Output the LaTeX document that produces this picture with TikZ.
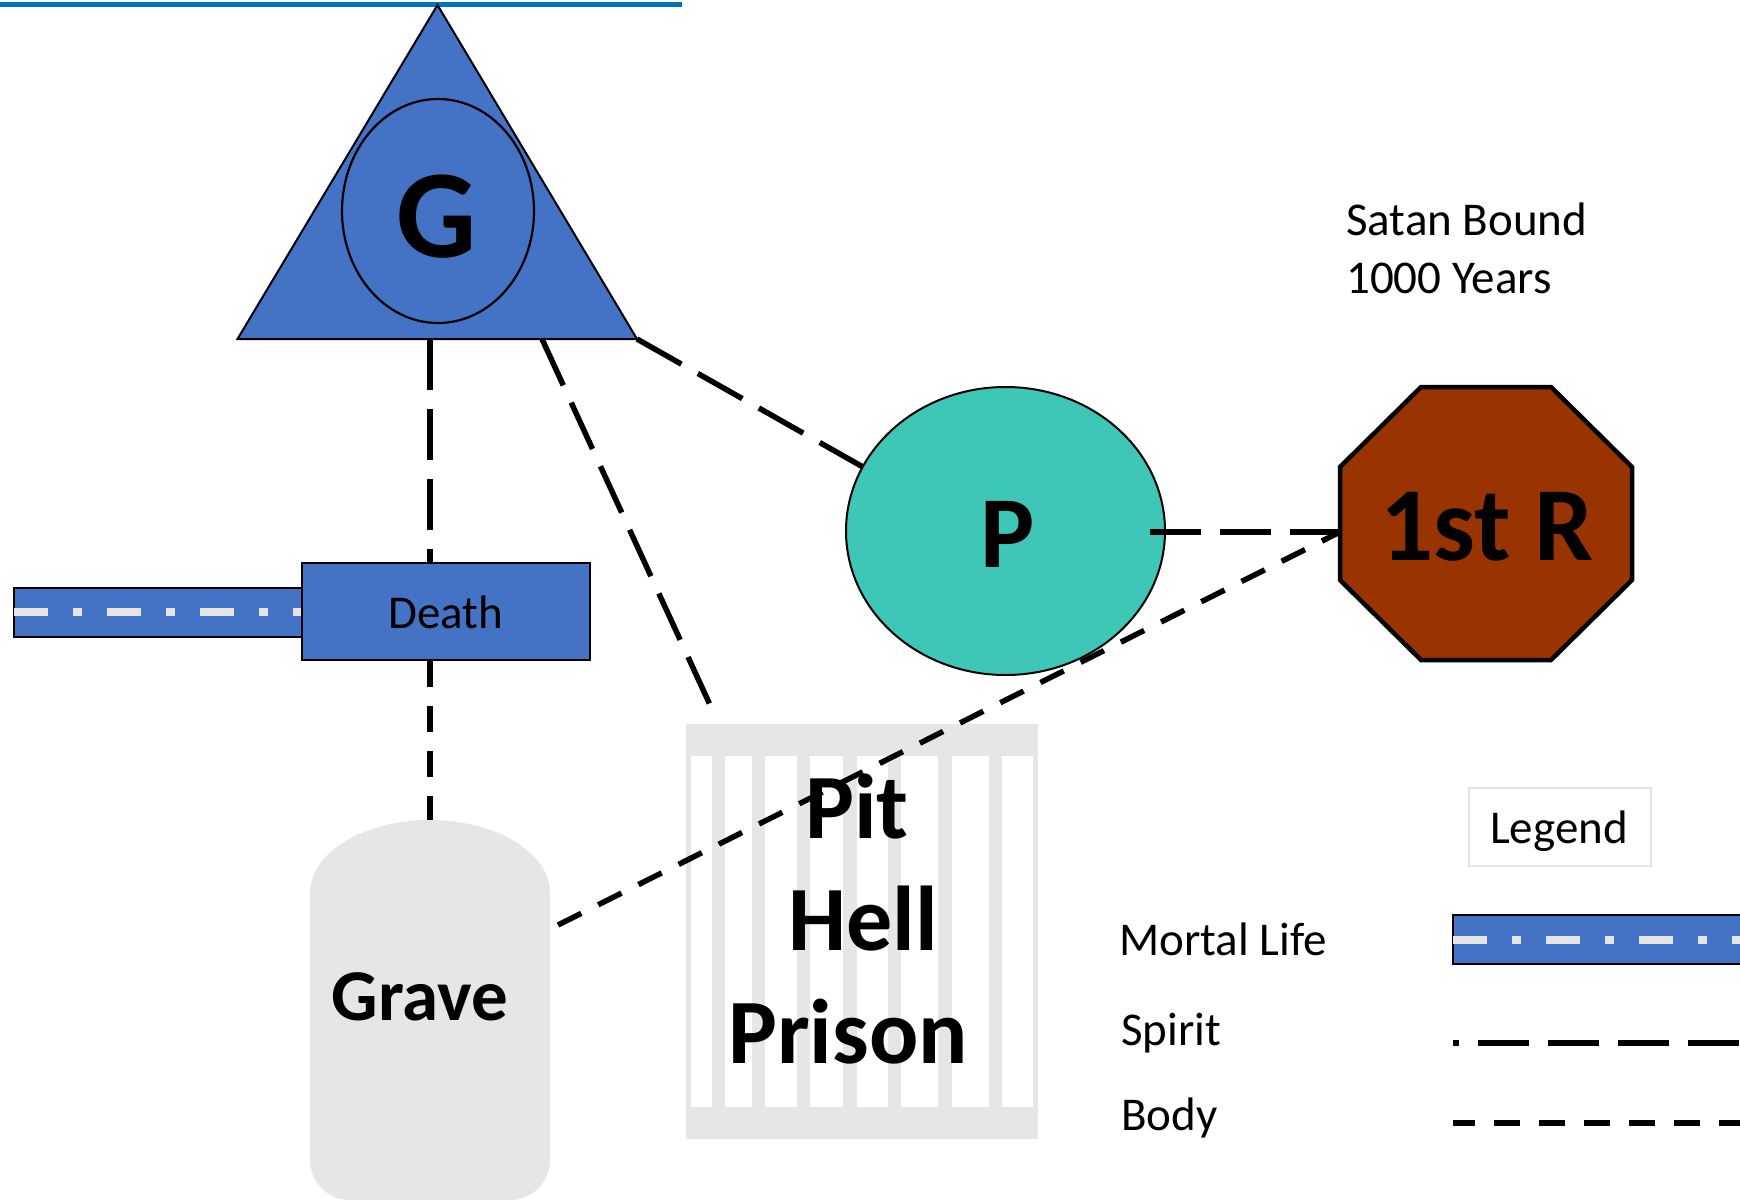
\documentclass[tikz,border=0pt]{standalone}
\usepackage{fontspec}
\setmainfont{Carlito}
\usetikzlibrary{shapes.geometric,calc}
\definecolor{gblue}{HTML}{4472C4}
\definecolor{topblue}{HTML}{0070C0}
\definecolor{teal2}{HTML}{3EC6B6}
\definecolor{brn}{HTML}{993300}
\definecolor{lgray}{HTML}{E6E6E6}
\definecolor{lborder}{HTML}{E2E2E2}
\begin{document}
\begin{tikzpicture}[x=1pt,y=-1pt,
  spirit/.style={line width=5.5pt, dash pattern=on 51pt off 19pt},
  body/.style={line width=5.5pt, dash pattern=on 26pt off 19pt},
  lifeline/.style={draw=lgray, line width=8pt, dash pattern=on 34pt off 25pt on 9pt off 25pt},
  txt/.style={inner sep=0pt, font=\fontsize{47}{56}\selectfont},
  bigtxt/.style={inner sep=0pt, font=\fontsize{#1}{#1}\selectfont\bfseries}]
\useasboundingbox (0,0) rectangle (1740,1202);

% top line
\coordinate (topL) at (0,4);
\coordinate (topR) at (682,4);
\draw[topblue, line width=5pt] (topL) -- (topR);

% triangle with G
\coordinate (triA) at (437.5,5);
\coordinate (triL) at (237.5,339);
\coordinate (triR) at (637,339);
\draw[fill=gblue, line width=2pt, line join=miter] (triA) -- (triR) -- (triL) -- cycle;
\node[ellipse, draw, line width=2.2pt, fill=gblue, minimum width=192pt, minimum height=224pt, inner sep=0pt] (Gell) at (438,211) {};
\node[bigtxt=126, anchor=base] (Gtxt) at (437,257) {G};

% mortal life bar and death box
\node[draw, line width=2.5pt, fill=gblue, minimum width=288pt, minimum height=49pt, inner sep=0pt] (life) at (158,612.5) {};
\coordinate (lifeA) at (14,612);
\coordinate (lifeB) at (302,612);
\draw[lifeline] (lifeA) -- (lifeB);
\node[draw, line width=2.5pt, fill=gblue, minimum width=288pt, minimum height=97pt, inner sep=0pt] (death) at (446,611.5) {};
\node[txt, anchor=base] (deathtxt) at (446,628) {Death};

% grave
\fill[lgray] (310,893) arc[start angle=180,end angle=360,x radius=120,y radius=73] -- (550,1160) arc[start angle=0,end angle=90,radius=40] -- (350,1200) arc[start angle=90,end angle=180,radius=40] -- cycle;
\coordinate (graveTop) at (430,820);
\coordinate (graveR) at (558,925);
\node[bigtxt=73, anchor=base] (gravetxt) at (420,1020) {Grave};

% pit / prison
\fill[lgray] (686,724) rectangle (1038,1139);
\fill[white] (691,756) rectangle (1033,1107);
\foreach \a/\b in {712/725, 752/765, 797/810, 843/857, 888/901, 938/952, 989/1002}
  \fill[lgray] (\a,756) rectangle (\b,1107);
\coordinate (pitTop) at (711,707);

% P ellipse
\node[ellipse, draw, line width=2pt, fill=teal2, minimum width=319pt, minimum height=288pt, inner sep=0pt] (P) at (1005.5,531) {};
\node[bigtxt=102, anchor=base] (Ptxt) at (1008,567) {P};
\coordinate (Pin) at (863,467);
\coordinate (Pout) at (1150,532);

% octagon 1st R
\draw[fill=brn, line width=4.5pt, line join=miter] (1421,387) -- (1551,387) -- (1632,467) -- (1632,580) -- (1551,660) -- (1421,660) -- (1340,580) -- (1340,467) -- cycle;
\coordinate (Rw) at (1340,532);
\node[bigtxt=105, anchor=base] (Rtxt) at (1487,560) {1st R};

% satan bound
\node[txt, anchor=base west] (sat1) at (1346,235) {Satan Bound};
\node[txt, anchor=base west] (sat2) at (1346,293) {1000 Years};

% connectors
\coordinate (tb1) at (430,339);
\coordinate (tb2) at (542,339);
\draw[spirit] (tb1) -- (tb1 |- death.north);
\draw[body] (tb1 |- death.south) -- (graveTop);
\draw[spirit] (tb2) -- (pitTop);
\draw[spirit] (triR) -- (Pin);
\draw[spirit] (Pout) -- (Rw);
\draw[body] (graveR) -- (Rw);

% pit text
\node[bigtxt=92, anchor=base] (pit) at (857,838) {Pit};
\node[bigtxt=92, anchor=base] (hell) at (863,950) {Hell};
\node[bigtxt=92, anchor=base] (prison) at (848,1063) {Prison};

% legend
\node[draw=lborder, line width=2pt, minimum width=182pt, minimum height=78pt, inner sep=0pt] (legbox) at (1560,827) {};
\node[txt, anchor=base] (legtxt) at (1559,843) {Legend};
\node[txt, anchor=base west] (mortal) at (1119,955) {Mortal Life};
\node[txt, anchor=base west] (spirittxt) at (1121,1045) {Spirit};
\node[txt, anchor=base west] (bodytxt) at (1121,1130) {Body};
\draw[line width=2.5pt, fill=gblue] (1453,915) rectangle (1760,964);
\coordinate (lgA) at (1453,940);
\coordinate (lgB) at (1745,940);
\draw[lifeline] (lgA) -- (lgB);
\coordinate (lsA) at (1453,1043);
\coordinate (lsB) at (1745,1043);
\draw[spirit, dash phase=45pt] (lsA) -- (lsB);
\coordinate (lbA) at (1453,1123);
\coordinate (lbB) at (1745,1123);
\draw[body, dash phase=4pt] (lbA) -- (lbB);
\end{tikzpicture}
\end{document}
